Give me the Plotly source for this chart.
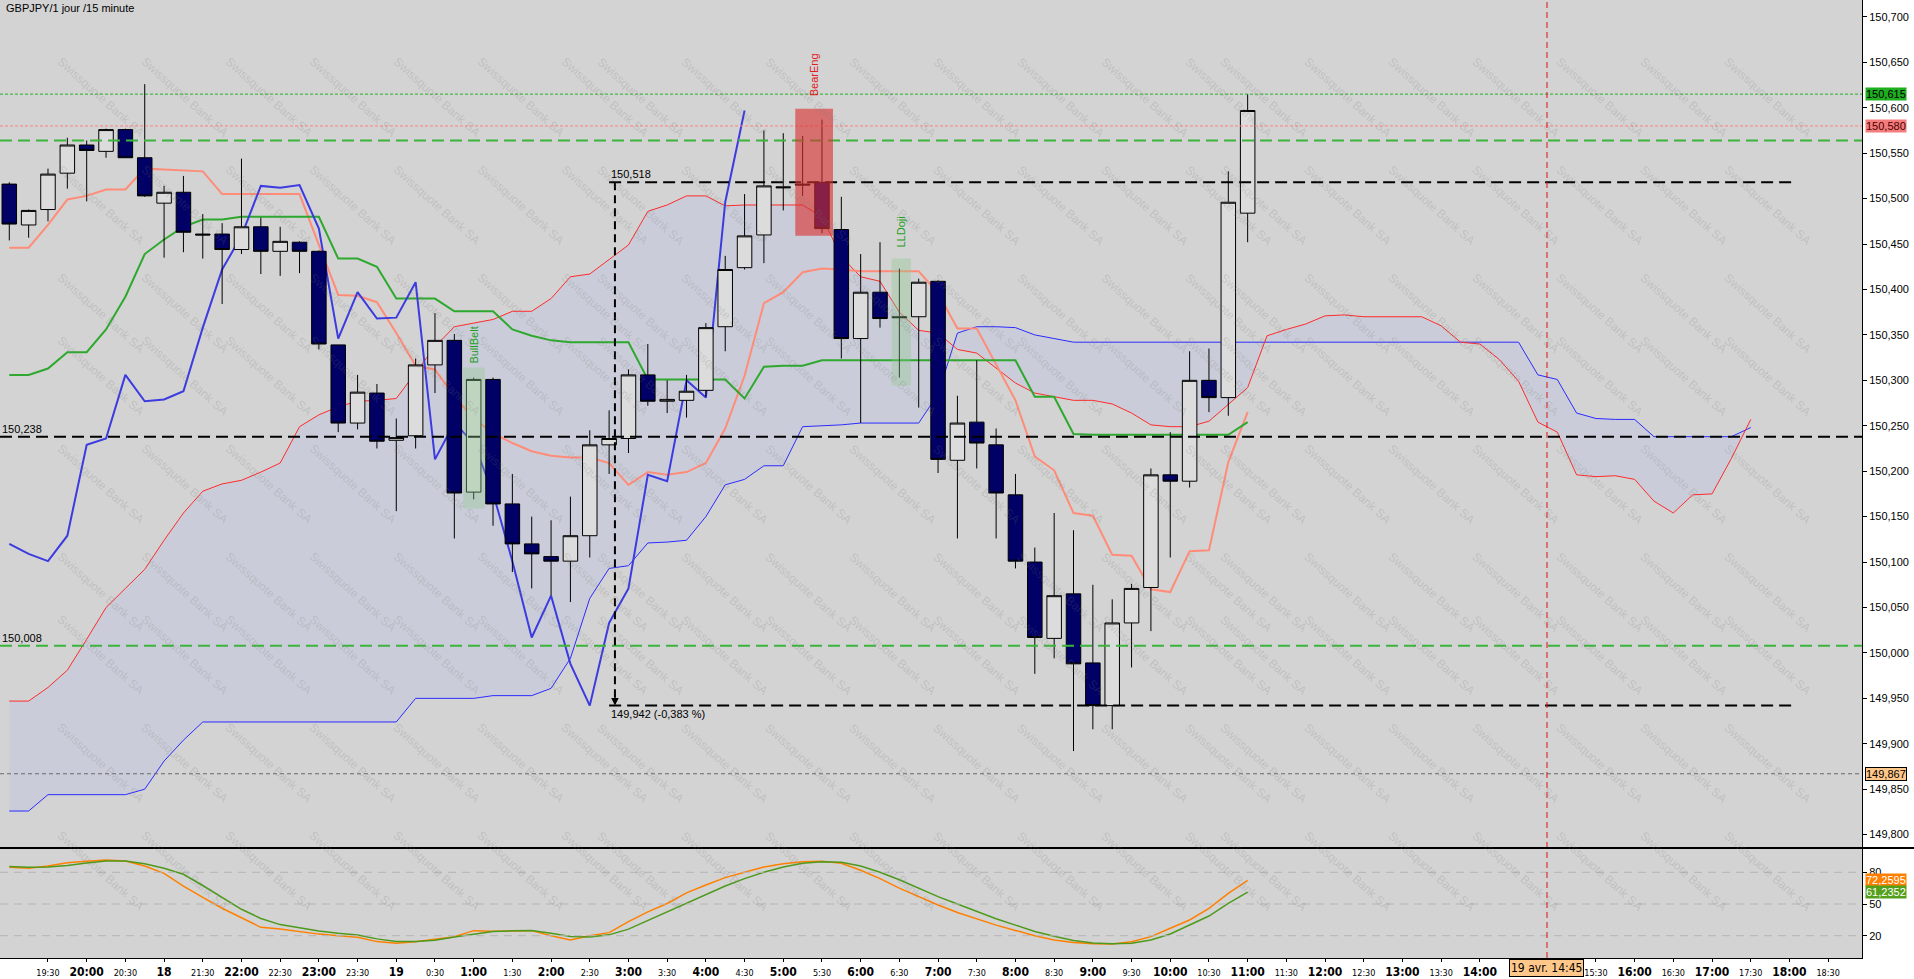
import plotly.graph_objects as go

# ---------------- data ----------------
opens = [150.516, 150.471, 150.488, 150.528, 150.559, 150.552, 150.576, 150.545, 150.495, 150.507,
         150.461, 150.461, 150.444, 150.469, 150.442, 150.452, 150.442, 150.339, 150.253, 150.286,
         150.234, 150.239, 150.317, 150.344, 150.177, 150.301, 150.164, 150.120, 150.106, 150.101,
         150.129, 150.229, 150.236, 150.306, 150.277, 150.278, 150.289, 150.359, 150.424, 150.460,
         150.513, 150.516, 150.518, 150.466, 150.346, 150.397, 150.370, 150.370, 150.409, 150.212,
         150.254, 150.229, 150.174, 150.100, 150.016, 150.065, 149.989, 149.942, 150.033, 150.072,
         150.196, 150.189, 150.300, 150.281, 150.484]
highs = [150.518, 150.488, 150.533, 150.567, 150.564, 150.577, 150.577, 150.626, 150.514, 150.525,
         150.483, 150.473, 150.544, 150.479, 150.469, 150.453, 150.443, 150.339, 150.306, 150.296,
         150.258, 150.324, 150.374, 150.351, 150.303, 150.303, 150.197, 150.150, 150.146, 150.172,
         150.245, 150.267, 150.312, 150.340, 150.300, 150.306, 150.363, 150.437, 150.505, 150.575,
         150.572, 150.569, 150.587, 150.502, 150.439, 150.452, 150.423, 150.412, 150.410, 150.283,
         150.322, 150.247, 150.197, 150.116, 150.154, 150.135, 150.075, 150.059, 150.076, 150.203,
         150.243, 150.332, 150.335, 150.530, 150.615]
lows = [150.454, 150.457, 150.475, 150.511, 150.497, 150.545, 150.545, 150.502, 150.435, 150.441,
        150.434, 150.384, 150.439, 150.417, 150.415, 150.418, 150.334, 150.243, 150.246, 150.225,
        150.156, 150.225, 150.286, 150.126, 150.169, 150.140, 150.089, 150.071, 150.063, 150.056,
        150.105, 150.197, 150.220, 150.272, 150.264, 150.259, 150.282, 150.332, 150.422, 150.429,
        150.487, 150.503, 150.462, 150.324, 150.253, 150.358, 150.303, 150.270, 150.198, 150.126,
        150.203, 150.126, 150.093, 149.977, 149.994, 149.892, 149.916, 149.916, 149.984, 150.024,
        150.105, 150.182, 150.265, 150.261, 150.452]
closes = [150.472, 150.487, 150.527, 150.559, 150.553, 150.576, 150.545, 150.503, 150.507, 150.463,
          150.460, 150.444, 150.469, 150.442, 150.453, 150.442, 150.340, 150.253, 150.287, 150.233,
          150.237, 150.317, 150.344, 150.176, 150.301, 150.164, 150.120, 150.109, 150.101, 150.129,
          150.229, 150.236, 150.306, 150.277, 150.279, 150.288, 150.358, 150.422, 150.459, 150.514,
          150.512, 150.515, 150.467, 150.346, 150.397, 150.368, 150.369, 150.408, 150.213, 150.253,
          150.231, 150.176, 150.101, 150.017, 150.063, 149.988, 149.942, 150.033, 150.071, 150.196,
          150.189, 150.300, 150.281, 150.496, 150.597]

tenkan = [150.446, 150.446, 150.471, 150.499, 150.503, 150.510, 150.510, 150.533, 150.532, 150.531,
          150.530, 150.505, 150.505, 150.505, 150.505, 150.505, 150.449, 150.394, 150.393, 150.386,
          150.352, 150.316, 150.312, 150.282, 150.258, 150.242, 150.231, 150.222, 150.217, 150.215,
          150.215, 150.209, 150.185, 150.199, 150.196, 150.199, 150.209, 150.247, 150.305, 150.385,
          150.397, 150.419, 150.423, 150.422, 150.420, 150.420, 150.420, 150.420, 150.396, 150.357,
          150.357, 150.318, 150.278, 150.216, 150.201, 150.154, 150.151, 150.108, 150.107, 150.070,
          150.067, 150.112, 150.113, 150.210, 150.265]
kijun = [150.306, 150.306, 150.313, 150.331, 150.331, 150.356, 150.392, 150.439, 150.455, 150.469,
         150.477, 150.477, 150.480, 150.480, 150.480, 150.480, 150.480, 150.434, 150.434, 150.425,
         150.390, 150.390, 150.390, 150.376, 150.376, 150.376, 150.356, 150.349, 150.344, 150.342,
         150.342, 150.342, 150.342, 150.301, 150.301, 150.301, 150.301, 150.301, 150.280, 150.315,
         150.316, 150.316, 150.322, 150.322, 150.322, 150.322, 150.322, 150.322, 150.322, 150.322,
         150.322, 150.322, 150.322, 150.282, 150.282, 150.241, 150.240, 150.240, 150.240, 150.240,
         150.240, 150.240, 150.240, 150.240, 150.254]
senkou_a = [149.947, 149.947, 149.962, 149.981, 150.015, 150.050, 150.071, 150.092, 150.124, 150.154,
            150.178, 150.186, 150.190, 150.199, 150.209, 150.249, 150.262, 150.271, 150.277, 150.278,
            150.280, 150.308, 150.337, 150.359, 150.363, 150.367, 150.376, 150.376, 150.390, 150.414,
            150.417, 150.433, 150.449, 150.486, 150.493, 150.503, 150.503, 150.492, 150.493, 150.493,
            150.493, 150.493, 150.480, 150.436, 150.414, 150.409, 150.375, 150.355, 150.352, 150.334,
            150.330, 150.313, 150.297, 150.286, 150.282, 150.278, 150.278, 150.274, 150.264, 150.251,
            150.249, 150.249, 150.255, 150.273, 150.292, 150.349, 150.356, 150.362, 150.371, 150.372,
            150.370, 150.370, 150.370, 150.370, 150.360, 150.342, 150.340, 150.323, 150.299, 150.254,
            150.243, 150.196, 150.194, 150.195, 150.191, 150.167, 150.154, 150.174, 150.175, 150.214,
            150.257]
senkou_b = [149.826, 149.826, 149.844, 149.844, 149.844, 149.844, 149.844, 149.850, 149.881, 149.904,
            149.924, 149.924, 149.924, 149.924, 149.924, 149.924, 149.924, 149.924, 149.924, 149.924,
            149.924, 149.950, 149.950, 149.950, 149.950, 149.953, 149.953, 149.953, 149.961, 149.994,
            150.060, 150.093, 150.096, 150.121, 150.122, 150.124, 150.150, 150.185, 150.191, 150.206,
            150.206, 150.249, 150.250, 150.251, 150.253, 150.253, 150.253, 150.253, 150.285, 150.352,
            150.359, 150.359, 150.358, 150.350, 150.346, 150.342, 150.342, 150.342, 150.342, 150.342,
            150.342, 150.342, 150.342, 150.342, 150.342, 150.342, 150.342, 150.342, 150.342, 150.342,
            150.342, 150.342, 150.342, 150.342, 150.342, 150.342, 150.342, 150.342, 150.342, 150.306,
            150.301, 150.264, 150.258, 150.257, 150.257, 150.238, 150.238, 150.238, 150.238, 150.238,
            150.248]
CHIKOU_SHIFT = 26  # chikou span = closes displaced 26 bars back

osc_fast = [84.7, 83.8, 86.0, 89.1, 90.5, 91.6, 90.7, 86.0, 79.0, 67.0,
            56.3, 46.0, 37.0, 27.9, 26.3, 24.0, 21.5, 20.0, 18.5, 14.4,
            12.8, 14.3, 16.5, 19.1, 24.8, 24.2, 24.5, 24.8, 20.0, 16.0,
            20.0, 22.9, 33.3, 42.5, 50.5, 60.5, 68.0, 75.0, 80.0, 85.0,
            88.0, 90.0, 90.5, 88.5, 82.0, 74.0, 65.0, 57.0, 49.0, 42.0,
            36.0, 30.0, 25.0, 20.0, 16.0, 13.5, 12.3, 12.1, 14.3, 19.1,
            27.0, 34.9, 45.9, 60.1, 72.26]
osc_slow = [85.6, 84.7, 85.0, 86.5, 88.8, 90.7, 90.8, 88.0, 83.8, 78.1,
            67.5, 56.0, 45.0, 36.3, 30.5, 27.5, 24.5, 22.3, 20.6, 17.0,
            14.6, 14.6, 15.7, 18.7, 21.5, 24.0, 24.6, 24.9, 22.4, 19.3,
            18.8, 20.8, 26.2, 34.5, 42.5, 51.0, 59.0, 67.0, 74.0, 80.0,
            85.0, 88.5, 90.0, 89.5, 86.0, 80.0, 73.0, 65.0, 57.0, 50.0,
            43.0, 36.0, 30.0, 24.0, 19.5, 15.5, 13.0, 12.4, 12.8, 15.9,
            21.6, 30.1, 38.6, 50.6, 61.24]

price_ticks = [149.80, 149.85, 149.90, 149.95, 150.00, 150.05, 150.10, 150.15, 150.20, 150.25,
               150.30, 150.35, 150.40, 150.45, 150.50, 150.55, 150.60, 150.65, 150.70]
price_tick_labels = ["149,800", "149,850", "149,900", "149,950", "150,000", "150,050", "150,100",
                     "150,150", "150,200", "150,250", "150,300", "150,350", "150,400", "150,450",
                     "150,500", "150,550", "150,600", "150,650", "150,700"]
osc_ticks = [20, 50, 80]
osc_tick_labels = ["20", "50", "80"]

time_tick_pos = [2, 4, 6, 8, 10, 12, 14, 16, 18, 20, 22, 24, 26, 28, 30, 32, 34, 36, 38, 40,
                 42, 44, 46, 48, 50, 52, 54, 56, 58, 60, 62, 64, 66, 68, 70, 72, 74, 76,
                 82, 84, 86, 88, 90, 92, 94]
time_tick_labels = ["19:30", "20:00", "20:30", "18", "21:30", "22:00", "22:30", "23:00", "23:30", "19",
                    "0:30", "1:00", "1:30", "2:00", "2:30", "3:00", "3:30", "4:00", "4:30", "5:00",
                    "5:30", "6:00", "6:30", "7:00", "7:30", "8:00", "8:30", "9:00", "9:30", "10:00",
                    "10:30", "11:00", "11:30", "12:00", "12:30", "13:00", "13:30", "14:00",
                    "15:30", "16:00", "16:30", "17:00", "17:30", "18:00", "18:30"]

level_hi = 150.615      # green dotted (high)
level_bid = 150.580     # salmon dotted
level_green_top = 150.564
level_green_low = 150.008
level_black = 150.238
level_grey = 149.867
measure_top = 150.518
measure_bottom = 149.942
measure_x0, measure_x1 = 31.0, 92.1
cursor_x = 79.47

# ---------------- geometry ----------------
W, H = 1914, 979
M_R, M_B = 52, 21
PW, PH = W - M_R, H - M_B
SPLIT = 110 / PH
Y_RANGE = [149.7853, 150.7186]
FONT = "Liberation Sans, Arial, sans-serif"
NARROW = "Liberation Sans Narrow, DejaVu Sans Condensed, Liberation Sans, Arial, sans-serif"

x_bars = list(range(len(closes)))
x_cloud = list(range(len(senkou_a)))
chikou = closes[CHIKOU_SHIFT:]
x_chikou = list(range(len(chikou)))

fig = go.Figure()
fig.add_trace(go.Scatter(x=x_cloud, y=senkou_b, mode="lines", line=dict(color="#2b2bff", width=1),
                         hoverinfo="skip"))
fig.add_trace(go.Scatter(x=x_cloud, y=senkou_a, mode="lines", line=dict(color="#ff2b2b", width=1),
                         fill="tonexty", fillcolor="rgba(196,202,222,0.6)", hoverinfo="skip"))
fig.add_trace(go.Scatter(x=x_bars, y=tenkan, mode="lines", line=dict(color="#ff8c78", width=2),
                         hoverinfo="skip"))
fig.add_trace(go.Scatter(x=x_bars, y=kijun, mode="lines", line=dict(color="#2ea82e", width=2),
                         hoverinfo="skip"))
fig.add_trace(go.Scatter(x=x_chikou, y=chikou, mode="lines", line=dict(color="#3b3be0", width=2),
                         hoverinfo="skip"))
# candles on an overlaying axis so they sit above the cloud and the lines
fig.add_trace(go.Candlestick(x=x_bars, open=opens, high=highs, low=lows, close=closes, yaxis="y3",
                             increasing=dict(line=dict(color="black", width=1), fillcolor="#dcdcdc"),
                             decreasing=dict(line=dict(color="black", width=1), fillcolor="#000066"),
                             whiskerwidth=0, hoverinfo="skip"))
fig.add_trace(go.Scatter(x=x_bars, y=osc_fast, yaxis="y2", mode="lines",
                         line=dict(color="#ff8000", width=1.5), hoverinfo="skip"))
fig.add_trace(go.Scatter(x=x_bars, y=osc_slow, yaxis="y2", mode="lines",
                         line=dict(color="#4e9a1c", width=1.5), hoverinfo="skip"))

tick_text = [("<b>%s</b>" % t) if not t.endswith(":30") else
             ("<span style='font-size:9px'>%s</span>" % t) for t in time_tick_labels]

fig.update_layout(
    width=W, height=H, margin=dict(l=0, r=M_R, t=0, b=M_B),
    paper_bgcolor="white", plot_bgcolor="#d3d3d3", showlegend=False,
    boxgap=0.25, boxgroupgap=0,
    font=dict(family=FONT, size=11, color="black"),
    xaxis=dict(domain=[0, 1], anchor="y2", range=[-0.48, 95.75], tickmode="array",
               tickvals=time_tick_pos, ticktext=tick_text, ticks="outside", ticklen=3,
               tickcolor="black", showline=True, linecolor="black", linewidth=1,
               showgrid=False, zeroline=False, rangeslider=dict(visible=False),
               tickfont=dict(family=NARROW, size=12, color="black"), automargin=False),
    yaxis=dict(domain=[SPLIT, 1], anchor="x", side="right", range=Y_RANGE,
               tickmode="array", tickvals=price_ticks, ticktext=price_tick_labels,
               ticks="outside", ticklen=4, tickcolor="black", showline=True,
               linecolor="black", linewidth=1, showgrid=False, zeroline=False,
               tickfont=dict(family=FONT, size=11, color="black"), automargin=False),
    yaxis3=dict(overlaying="y", anchor="x", side="right", range=Y_RANGE, visible=False,
                showgrid=False, zeroline=False),
    yaxis2=dict(domain=[0, SPLIT], anchor="x", side="right", range=[-1.1, 103],
                tickmode="array", tickvals=osc_ticks, ticktext=osc_tick_labels,
                ticks="outside", ticklen=4, tickcolor="black", showline=True,
                linecolor="black", linewidth=1, showgrid=False, zeroline=False,
                tickfont=dict(family=FONT, size=11, color="black"), automargin=False),
)

DASH = "12px,6px"
shapes = [
    dict(type="line", xref="paper", yref="y", x0=0, x1=1, y0=level_hi, y1=level_hi,
         line=dict(color="#22b022", width=1, dash="3px,2px")),
    dict(type="line", xref="paper", yref="y", x0=0, x1=1, y0=level_bid, y1=level_bid,
         line=dict(color="#ff8080", width=1, dash="3px,2px")),
    dict(type="line", xref="paper", yref="y", x0=0, x1=1, y0=level_green_top, y1=level_green_top,
         line=dict(color="#3cb43c", width=2, dash=DASH)),
    dict(type="line", xref="paper", yref="y", x0=0, x1=1, y0=level_green_low, y1=level_green_low,
         line=dict(color="#3cb43c", width=2, dash=DASH)),
    dict(type="line", xref="paper", yref="y", x0=0, x1=1, y0=level_black, y1=level_black,
         line=dict(color="black", width=2, dash=DASH)),
    dict(type="line", xref="paper", yref="y", x0=0, x1=1, y0=level_grey, y1=level_grey,
         line=dict(color="#6a6a6a", width=1, dash="4px,3px")),
    dict(type="line", xref="x", yref="y", x0=measure_x0, x1=measure_x1, y0=measure_top, y1=measure_top,
         line=dict(color="black", width=2, dash=DASH)),
    dict(type="line", xref="x", yref="y", x0=measure_x0, x1=measure_x1, y0=measure_bottom,
         y1=measure_bottom, line=dict(color="black", width=2, dash=DASH)),
    dict(type="line", xref="x", yref="y", x0=measure_x0 + 0.3, x1=measure_x0 + 0.3, y0=measure_top,
         y1=measure_bottom + 0.006, line=dict(color="black", width=2, dash="8px,5px")),
    # pattern boxes
    dict(type="rect", xref="x", yref="y", x0=40.62, x1=42.57, y0=150.459, y1=150.599,
         fillcolor="rgba(218,50,50,0.62)", line=dict(width=0)),
    dict(type="rect", xref="x", yref="y", x0=45.6, x1=46.6, y0=150.294, y1=150.434,
         fillcolor="rgba(140,200,140,0.35)", line=dict(width=0)),
    dict(type="rect", xref="x", yref="y", x0=23.46, x1=24.58, y0=150.159, y1=150.314,
         fillcolor="rgba(140,200,140,0.35)", line=dict(width=0)),
]
for lv in osc_ticks:
    shapes.append(dict(type="line", xref="paper", yref="y2", x0=0, x1=1, y0=lv, y1=lv,
                       line=dict(color="#b4b4b4", width=1, dash="8px,6px")))
shapes.append(dict(type="line", xref="x", yref="paper", x0=cursor_x, x1=cursor_x, y0=0, y1=1,
                   line=dict(color="#e01010", width=1, dash="6px,4px")))
shapes.append(dict(type="line", xref="paper", yref="paper", x0=0, x1=W / PW, y0=SPLIT, y1=SPLIT,
                   line=dict(color="black", width=2)))
fig.update_layout(shapes=shapes)

ann = []
# watermark (kept fully inside the page)
for r in range(9):
    for c in range(22):
        px, py = 52 + c * 84, 52 + r * 108
        if px > W - 52 or py > H - 52:
            continue
        ann.append(dict(x=px / PW, y=(PH - py) / PH, xref="paper", yref="paper",
                        text="Swissquote Bank SA", showarrow=False, textangle=42,
                        font=dict(size=12, color="rgba(120,120,120,0.22)", family=FONT)))
ann += [
    dict(x=0.002, y=1, xref="paper", yref="paper", text="GBPJPY/1 jour /15 minute", showarrow=False,
         xanchor="left", yanchor="top", font=dict(size=11, color="black")),
    dict(x=0, y=level_black, xref="paper", yref="y", text="150,238", showarrow=False,
         xanchor="left", yanchor="bottom", font=dict(size=11, color="black")),
    dict(x=0, y=level_green_low, xref="paper", yref="y", text="150,008", showarrow=False,
         xanchor="left", yanchor="bottom", font=dict(size=11, color="black")),
    dict(x=measure_x0, y=measure_top, xref="x", yref="y", text="150,518", showarrow=False,
         xanchor="left", yanchor="bottom", font=dict(size=11, color="black")),
    dict(x=measure_x0, y=measure_bottom, xref="x", yref="y", text="149,942 (-0,383 %)",
         showarrow=False, xanchor="left", yanchor="top", font=dict(size=11, color="black")),
    dict(x=measure_x0 + 0.3, y=measure_bottom, xref="x", yref="y", text="", showarrow=True,
         ax=0, ay=-12, arrowhead=2, arrowsize=1, arrowwidth=1.5, arrowcolor="black"),
    dict(x=41.6, y=150.636, xref="x", yref="y", text="BearEng", showarrow=False, textangle=-90,
         font=dict(size=11, color="#e02020")),
    dict(x=46.1, y=150.463, xref="x", yref="y", text="LLDoji", showarrow=False, textangle=-90,
         font=dict(size=11, color="#1fa01f")),
    dict(x=24.0, y=150.339, xref="x", yref="y", text="BullBelt", showarrow=False, textangle=-90,
         font=dict(size=11, color="#1fa01f")),
    # right-axis value labels
    dict(x=1, y=level_hi, xref="paper", yref="y", text="150,615", showarrow=False, xanchor="left",
         xshift=3, bgcolor="#1fae1f", font=dict(size=11, color="black"), borderpad=0),
    dict(x=1, y=level_bid, xref="paper", yref="y", text="150,580", showarrow=False, xanchor="left",
         xshift=3, bgcolor="#f47c7c", font=dict(size=11, color="#4a0000"), borderpad=0),
    dict(x=1, y=level_grey, xref="paper", yref="y", text="149,867", showarrow=False, xanchor="left",
         xshift=3, bgcolor="#ffc88a", bordercolor="black", borderwidth=1,
         font=dict(size=11, color="black"), borderpad=0),
    dict(x=1, y=osc_fast[-1], xref="paper", yref="y2", text="72,2595", showarrow=False,
         xanchor="left", xshift=3, bgcolor="#ff8000", font=dict(size=11, color="white"), borderpad=0),
    dict(x=1, y=osc_slow[-1], xref="paper", yref="y2", text="61,2352", showarrow=False,
         xanchor="left", xshift=3, bgcolor="#54a01c", font=dict(size=11, color="white"), borderpad=0),
    dict(x=cursor_x, y=-10 / PH, xref="x", yref="paper", text="19 avr. 14:45", showarrow=False,
         yanchor="middle", bgcolor="#ffc88a", bordercolor="black", borderwidth=1, borderpad=1,
         font=dict(size=12, color="black", family=NARROW)),
]
fig.update_layout(annotations=ann)

fig.write_html("out.html", config={"displayModeBar": False},
               post_script="document.body.style.margin='0';document.body.style.overflow='hidden';")
